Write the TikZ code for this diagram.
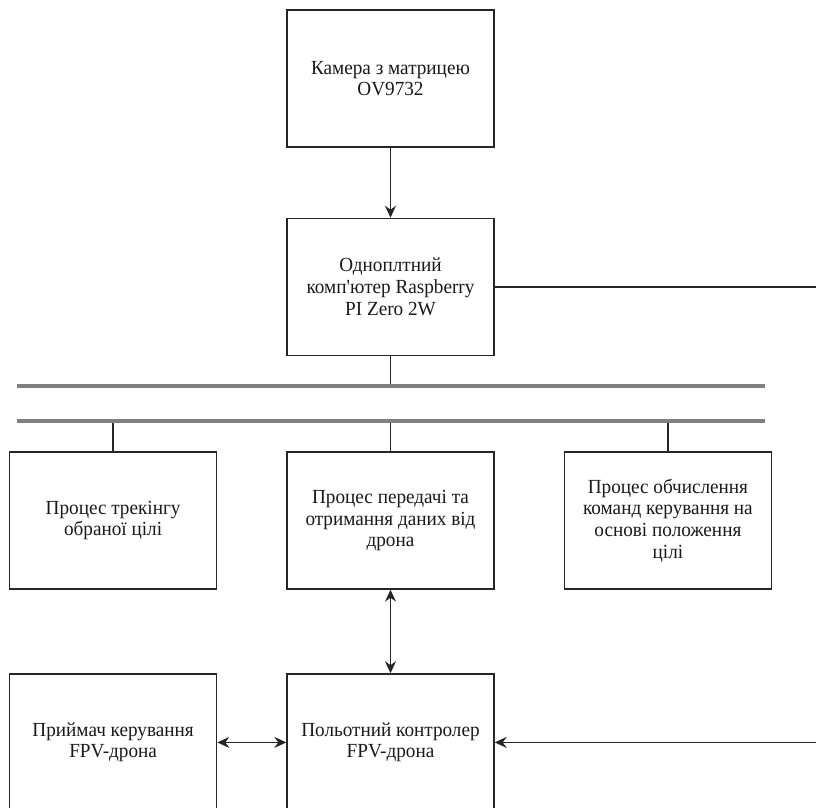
\documentclass[tikz,border=0pt]{standalone}
\usepackage{fontspec}
\setmainfont{Liberation Serif}[FakeStretch=0.96]
\usetikzlibrary{arrows.meta,positioning}
\tikzset{
  tipone/.style={-{Stealth[length=12pt,width=11pt,inset=4pt]}},   % draw.io style arrows.
  tiptwo/.style={{Stealth[length=12pt,width=11pt,inset=4pt]}-{Stealth[length=12pt,width=11pt,inset=4pt]}},
}

\begin{document}
\begin{tikzpicture}[x=1pt,y=-1pt,
        block/.style={
          rectangle,
          draw=black!85,
          line width=1.4pt,
          minimum width=207pt,
          minimum height=137pt,
          align=center,
          text=black!90,
          font=\fontsize{20}{21.7}\selectfont,
          node distance=69pt,
        },
        bus/.style={line width=3.5pt,draw=black!50},
        link/.style={line width=1.3pt,draw=black!85},
      ]
      \useasboundingbox (0,0) rectangle (816,807);
      \clip (0,0) rectangle (816,807);
      \node[block] (camera) at (390.5,78.5) {Камера з матрицею\\OV9732};
      \node[block] (rpi) [below=70pt of camera] {Одноплтний\\комп\textquotesingle ютер Raspberry\\PI Zero 2W};
      \draw[link,tipone] (camera) -- (rpi);
      % two bus lines
      \coordinate (busAl) at (17,386);
      \coordinate (busAr) at (765,386);
      \coordinate (busBl) at (17,421);
      \coordinate (busBr) at (765,421);
      \coordinate (edge) at (816,0);
      \draw[link] (rpi.south) -- (rpi.south |- busAl);
      \draw[link] (rpi.east) -- (rpi.east -| edge);
      \node[block] (transfer) at (390.5,520.5) {Процес передачі та\\отримання даних від\\дрона};
      \node[block] (tracking) [left=of transfer] {Процес трекінгу\\обраної цілі};
      \node[block] (command) [right=of transfer] {Процес обчислення\\команд керування на\\основі положення\\цілі};
      \foreach \p in {tracking,transfer,command}
        \draw[link] (\p.north) -- (\p.north |- busBl);
      \draw[bus] (busAl) -- (busAr);
      \draw[bus] (busBl) -- (busBr);
      \node[block] (fc) [below=83.5pt of transfer] {Польотний контролер\\FPV-дрона};
      \node[block] (receiver) [left=of fc] {Приймач керування\\FPV-дрона};
      \draw[link,tiptwo] (transfer) -- (fc);
      \draw[link,tiptwo] (receiver) -- (fc);
      \draw[link,tipone] (fc.east -| edge) -- (fc.east);
      \end{tikzpicture}
\end{document}
